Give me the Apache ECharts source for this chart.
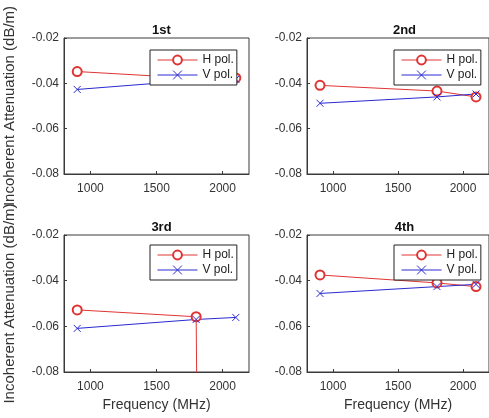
<!DOCTYPE html>
<html>
<head>
<meta charset="utf-8">
<script src="https://cdn.jsdelivr.net/npm/echarts@6/dist/echarts.min.js"></script>
<style>
html,body{margin:0;padding:0;background:#fff;}
#c{width:489px;height:418px;}
</style>
</head>
<body>
<div id="c"></div>
<script>
// ---- data ----
var freqs = [900, 1800, 2100];
var panelTitles = ['1st', '2nd', '3rd', '4th'];
var seriesNames = ['H pol.', 'V pol.'];
var h1 = [-0.0348, -0.0378, -0.0376];
var v1 = [-0.0427, -0.0386, -0.0382];
var h2 = [-0.0409, -0.0434, -0.0460];
var v2 = [-0.0488, -0.0460, -0.0447];
var h3 = [-0.0528, -0.0558, -2.0];
var v3 = [-0.0609, -0.0570, -0.0561];
var h4 = [-0.0375, -0.0410, -0.0426];
var v4 = [-0.0456, -0.0426, -0.0416];
var xTicks = [1000, 1500, 2000];
var yTicks = [-0.08, -0.06, -0.04, -0.02];

var hData = [h1, h2, h3, h4];
var vData = [v1, v2, v3, v4];

// ---- layout ----
var FONT = 'Liberation Sans, Arial, sans-serif';
var AX = '#3a3a3a';
var RED = '#e03434';
var BLUE = '#2a2ad2';
var grids = [
  {left: 64, top: 38, width: 185, height: 136},
  {left: 307, top: 38, width: 185, height: 136},
  {left: 64, top: 235, width: 185, height: 137},
  {left: 307, top: 235, width: 185, height: 137}
];
var legendPos = [
  {left: 150, top: 50}, {left: 394, top: 50},
  {left: 150, top: 245}, {left: 394, top: 245}
];
var XSYM = 'path://M0,0L10,10M10,0L0,10';

function pairs(ys) { return freqs.map(function (f, i) { return [f, ys[i]]; }); }

var option = {
  animation: false,
  backgroundColor: '#fff',
  textStyle: {fontFamily: FONT},
  title: [],
  grid: [],
  xAxis: [],
  yAxis: [],
  legend: [],
  series: []
};

grids.forEach(function (g, i) {
  option.grid.push({left: g.left, top: g.top, width: g.width, height: g.height,
    show: true, borderColor: AX, borderWidth: 1, backgroundColor: '#fff'});
  option.title.push({text: panelTitles[i], left: g.left + g.width / 2, top: g.top - 19,
    textAlign: 'center',
    textStyle: {fontFamily: FONT, fontSize: 13, fontWeight: 'bold', color: '#111'}});
  option.xAxis.push({
    type: 'value', gridIndex: i, min: 800, max: 2200,
    name: i >= 2 ? 'Frequency (MHz)' : '',
    nameLocation: 'middle', nameGap: 26,
    nameTextStyle: {fontFamily: FONT, fontSize: 14, color: '#333'},
    axisLine: {show: true, onZero: false, lineStyle: {color: AX, width: 1}},
    axisTick: {show: true, inside: true, length: 3, customValues: xTicks, lineStyle: {color: AX}},
    axisLabel: {customValues: xTicks, margin: 9, fontFamily: FONT, fontSize: 12, color: '#333',
      formatter: function (v) { return String(v); }},
    splitLine: {show: false}
  });
  option.yAxis.push({
    type: 'value', gridIndex: i, min: -0.08, max: -0.02, interval: 0.02,
    name: (i % 2 === 0) ? 'Incoherent Attenuation (dB/m)' : '',
    nameLocation: 'middle', nameGap: 47,
    nameTextStyle: {fontFamily: FONT, fontSize: 15, color: '#333'},
    axisLine: {show: true, onZero: false, lineStyle: {color: AX, width: 1}},
    axisTick: {show: true, inside: true, length: 3, lineStyle: {color: AX}},
    axisLabel: {margin: 5, fontFamily: FONT, fontSize: 12, color: '#333',
      formatter: function (v) { return v.toFixed(2); }},
    splitLine: {show: false}
  });
  option.series.push({
    name: seriesNames[0], type: 'line', xAxisIndex: i, yAxisIndex: i,
    data: pairs(hData[i]), symbol: 'emptyCircle', symbolSize: 9, clip: true,
    itemStyle: {color: RED, borderColor: RED, borderWidth: 1},
    lineStyle: {color: RED, width: 1}
  });
  option.series.push({
    name: seriesNames[1], type: 'line', xAxisIndex: i, yAxisIndex: i,
    data: pairs(vData[i]), symbol: XSYM, symbolSize: 7, clip: true,
    itemStyle: {color: BLUE, borderColor: BLUE, borderWidth: 1},
    lineStyle: {color: BLUE, width: 1}
  });
  option.legend.push({
    data: seriesNames, orient: 'vertical',
    left: legendPos[i].left, top: legendPos[i].top,
    padding: [4, 3, 4, 7], itemWidth: 40, itemHeight: 11, itemGap: 3,
    borderColor: '#222', borderWidth: 1, backgroundColor: '#fff',
    itemStyle: {borderWidth: 1},
    lineStyle: {width: 1},
    textStyle: {fontFamily: FONT, fontSize: 12, color: '#222'},
    selectedMode: false, z: 10
  });
});

var chart = echarts.init(document.getElementById('c'), null, {renderer: 'canvas'});
chart.setOption(option);
</script>
</body>
</html>
